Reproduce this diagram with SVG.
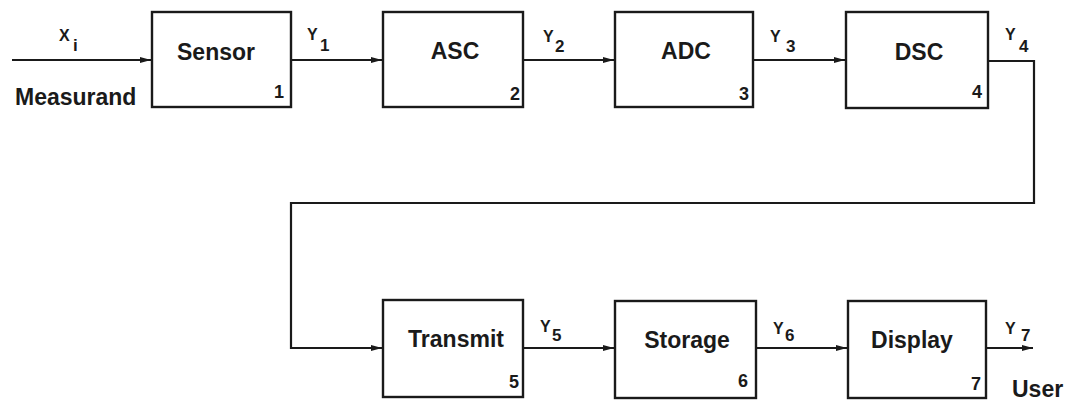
<svg xmlns="http://www.w3.org/2000/svg" width="1065" height="401" viewBox="0 0 1065 401">
<style>
.box{fill:#fff;stroke:#1a1a1a;stroke-width:2.4}
.ln{fill:none;stroke:#1a1a1a;stroke-width:2.2}
.t{font-family:"Liberation Sans",Arial,sans-serif;font-weight:bold;font-size:23px;fill:#1a1a1a}
.n{font-family:"Liberation Sans",Arial,sans-serif;font-weight:bold;font-size:18px;fill:#1a1a1a;text-anchor:end}
.y{font-family:"Liberation Sans",Arial,sans-serif;font-weight:bold;font-size:16px;fill:#1a1a1a}
.s{font-family:"Liberation Sans",Arial,sans-serif;font-weight:bold;font-size:17px;fill:#1a1a1a}
</style>
<defs>
<marker id="ah" markerWidth="12" markerHeight="8" refX="11" refY="4" orient="auto" markerUnits="userSpaceOnUse">
<path d="M0,1 L11,4 L0,7 Z" fill="#1a1a1a"/>
</marker>
</defs>
<rect width="1065" height="401" fill="#fff"/>
<g id="connectors">
<line class="ln" x1="12" y1="60" x2="151" y2="60" marker-end="url(#ah)"/>
<line class="ln" x1="291" y1="60" x2="382" y2="60" marker-end="url(#ah)"/>
<line class="ln" x1="523" y1="60" x2="614" y2="60" marker-end="url(#ah)"/>
<line class="ln" x1="753" y1="60" x2="845" y2="60" marker-end="url(#ah)"/>
<polyline class="ln" points="988,61 1034,61 1034,203 291,203 291,348 382,348" marker-end="url(#ah)"/>
<line class="ln" x1="523" y1="348" x2="614" y2="348" marker-end="url(#ah)"/>
<line class="ln" x1="756" y1="348" x2="847" y2="348" marker-end="url(#ah)"/>
<line class="ln" x1="986" y1="348" x2="1033" y2="348" marker-end="url(#ah)"/>
</g>
<g id="labels">
<text class="y" x="59" y="41">X</text><text class="s" x="73" y="51" font-size="14">i</text>
<text class="t" x="15" y="105">Measurand</text>
<text class="y" x="307" y="40">Y</text><text class="s" x="320" y="51">1</text>
<text class="y" x="543" y="42">Y</text><text class="s" x="555" y="52">2</text>
<text class="y" x="770" y="42">Y</text><text class="s" x="786" y="52">3</text>
<text class="y" x="1005" y="40">Y</text><text class="s" x="1019" y="52">4</text>
<text class="y" x="540" y="332">Y</text><text class="s" x="552" y="341">5</text>
<text class="y" x="773" y="334">Y</text><text class="s" x="785" y="341">6</text>
<text class="y" x="1005" y="334">Y</text><text class="s" x="1021" y="341">7</text>
<text class="t" x="1012" y="397">User</text>
</g>
<g id="sensor">
<rect class="box" x="152" y="12" width="139" height="95"/>
<text class="t" x="216" y="60" text-anchor="middle">Sensor</text>
<text class="n" x="284" y="98">1</text>
</g>
<g id="asc">
<rect class="box" x="383" y="12" width="140" height="95"/>
<text class="t" x="455" y="59" text-anchor="middle">ASC</text>
<text class="n" x="520" y="100">2</text>
</g>
<g id="adc">
<rect class="box" x="615" y="12" width="138" height="95"/>
<text class="t" x="686" y="59" text-anchor="middle">ADC</text>
<text class="n" x="749" y="100">3</text>
</g>
<g id="dsc">
<rect class="box" x="846" y="12" width="142" height="96"/>
<text class="t" x="919" y="60" text-anchor="middle">DSC</text>
<text class="n" x="982" y="98">4</text>
</g>
<g id="transmit">
<rect class="box" x="383" y="300" width="140" height="97"/>
<text class="t" x="456" y="347" text-anchor="middle">Transmit</text>
<text class="n" x="519" y="388">5</text>
</g>
<g id="storage">
<rect class="box" x="615" y="301" width="141" height="97"/>
<text class="t" x="687" y="348" text-anchor="middle">Storage</text>
<text class="n" x="748" y="387">6</text>
</g>
<g id="display">
<rect class="box" x="848" y="301" width="138" height="97"/>
<text class="t" x="912" y="348" text-anchor="middle">Display</text>
<text class="n" x="981" y="390">7</text>
</g>
</svg>
